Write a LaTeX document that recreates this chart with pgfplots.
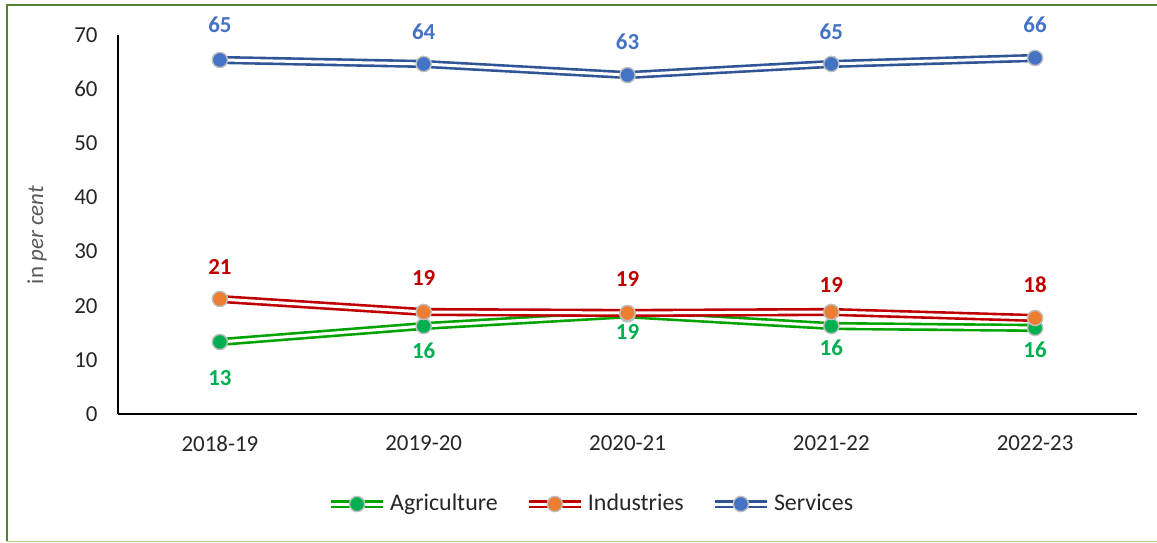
\documentclass[border=0pt]{standalone}
\usepackage{pgfplots}
\usepackage{pgfplotstable}
\pgfplotsset{compat=1.18}
\usepackage{fontspec}
\setmainfont{Carlito}
\definecolor{agline}{HTML}{00A300}
\definecolor{agfill}{HTML}{00B050}
\definecolor{inline}{HTML}{C00000}
\definecolor{infill}{HTML}{ED7D31}
\definecolor{seline}{HTML}{2F5597}
\definecolor{sefill}{HTML}{4472C4}
\definecolor{txt}{HTML}{262626}
\definecolor{framedark}{HTML}{548235}
\definecolor{framelight}{HTML}{A9D18E}

\pgfplotstableread{
x y lab dy
0 13.3 13 -18
1 16.25 16 -12.5
2 18.4 19 -8.8
3 16.25 16 -11
4 15.9 16 -11
}\agri
\pgfplotstableread{
x y lab dy
0 21.24 21 16
1 18.84 19 17
2 18.66 19 17
3 18.84 19 13.5
4 17.73 18 16.5
}\indu
\pgfplotstableread{
x y lab dy
0 65.39 65 17.5
1 64.65 64 16
2 62.6 63 16.5
3 64.65 65 16
4 65.76 66 16.5
}\serv

\tikzset{
  dline/.style={line width=1.3bp, double=white, double distance=1.5bp},
  mk/.style={mark=*, mark size=3.8bp, mark options={draw=black!25, line width=0.7bp, fill=#1}},
}

\begin{document}
\begin{tikzpicture}
\path[use as bounding box] (0,0) rectangle (578.5bp,271.5bp);
\fill[white] (0,0) rectangle (578.5bp,271.5bp);
\draw[framedark, line width=1bp] (3.4bp,0.8bp) -- (3.4bp,269bp) -- (578.5bp,269bp);
\draw[framelight, line width=0.8bp] (3.4bp,0.8bp) -- (578.5bp,0.8bp);
\begin{axis}[
  at={(59bp,64.5bp)}, anchor=south west,
  scale only axis, width=509.5bp, height=189.5bp,
  xmin=-0.5, xmax=4.5, ymin=0, ymax=70,
  axis x line=bottom, axis y line=left,
  axis line style={-, black, line width=0.8bp},
  xtick={0,1,2,3,4},
  xticklabels={2018-19,2019-20,2020-21,2021-22,2022-23},
  ytick={0,10,...,70},
  major tick length=0pt,
  tick label style={font=\fontsize{11.5}{13}\selectfont, text=txt},
  /pgf/number format/assume math mode=true,
  xticklabel style={anchor=north, inner sep=0pt, yshift=-10.5bp},
  yticklabel style={anchor=east, inner sep=0pt, xshift=-10bp},
  ylabel={in \textit{per cent}},
  ylabel style={at={(axis description cs:-0.0795,0.472)}, anchor=center, font=\fontsize{11.5}{13}\selectfont, text=black!65},
  clip=false,
  legend columns=3,
  legend style={at={(0.4647,-0.2375)}, anchor=center, draw=none, fill=none,
    font=\fontsize{12}{14}\selectfont, text=txt, inner sep=0pt,
    nodes={inner sep=1.5bp},
    /tikz/every even column/.append style={column sep=12bp}},
  legend cell align=left,
  point meta=explicit symbolic,
  nodes near coords,
  visualization depends on={\thisrow{dy}\as\dy},
  every node near coord/.append style={anchor=center, yshift=\dy bp, inner sep=0pt,
    font=\bfseries\fontsize{11.5}{13}\selectfont},
]
% Agriculture
\addplot[dline, draw=agline, forget plot, nodes near coords={}] table[x=x,y=y] {\agri};
\addplot[only marks, mk=agfill, every node near coord/.append style={text=agfill},
  legend image code/.code={
    \draw[dline, draw=agline] (0bp,0bp) -- (26bp,0bp);
    \fill[fill=agfill, draw=black!25, line width=0.7bp] (13bp,0bp) circle (3.8bp);}]
  table[x=x,y=y,meta=lab] {\agri};
\addlegendentry{Agriculture}
% Industries
\addplot[dline, draw=inline, forget plot, nodes near coords={}] table[x=x,y=y] {\indu};
\addplot[only marks, mk=infill, every node near coord/.append style={text=inline},
  legend image code/.code={
    \draw[dline, draw=inline] (0bp,0bp) -- (26bp,0bp);
    \fill[fill=infill, draw=black!25, line width=0.7bp] (13bp,0bp) circle (3.8bp);}]
  table[x=x,y=y,meta=lab] {\indu};
\addlegendentry{Industries}
% Services
\addplot[dline, draw=seline, forget plot, nodes near coords={}] table[x=x,y=y] {\serv};
\addplot[only marks, mk=sefill, every node near coord/.append style={text=sefill},
  legend image code/.code={
    \draw[dline, draw=seline] (0bp,0bp) -- (26bp,0bp);
    \fill[fill=sefill, draw=black!25, line width=0.7bp] (13bp,0bp) circle (3.8bp);}]
  table[x=x,y=y,meta=lab] {\serv};
\addlegendentry{Services}
\end{axis}
\end{tikzpicture}
\end{document}
